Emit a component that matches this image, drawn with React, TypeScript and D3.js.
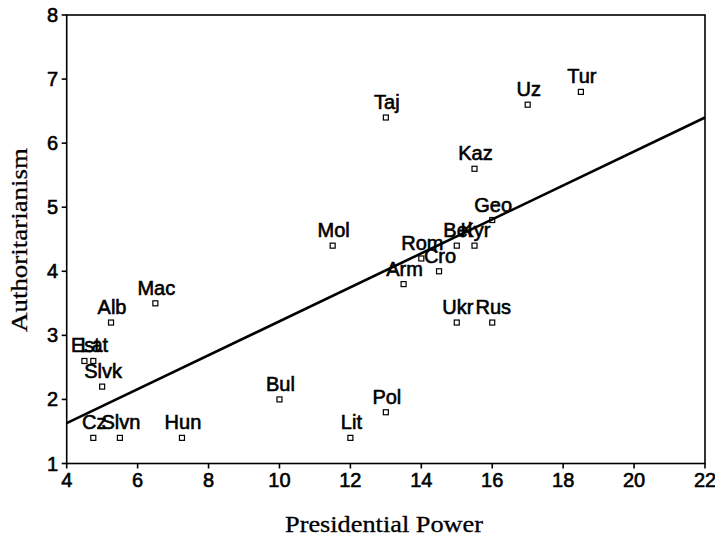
import React from "react";
import * as d3 from "d3";

const countries = ["Tur", "Uz", "Taj", "Kaz", "Geo", "Bel", "Kyr", "Mol", "Rom", "Cro", "Arm", "Mac", "Alb", "Ukr", "Rus", "Est", "Lat", "Slvk", "Bul", "Pol", "Cz", "Slvn", "Hun", "Lit"];
const presidentialPower = [18.5, 17, 13, 15.5, 16, 15, 15.5, 11.5, 14, 14.5, 13.5, 6.5, 5.25, 15, 16, 4.5, 4.75, 5, 10, 13, 4.75, 5.5, 7.25, 12];
const authoritarianism = [6.8, 6.6, 6.4, 5.6, 4.8, 4.4, 4.4, 4.4, 4.2, 4.0, 3.8, 3.5, 3.2, 3.2, 3.2, 2.6, 2.6, 2.2, 2.0, 1.8, 1.4, 1.4, 1.4, 1.4];
const fitLineX = [4, 22];
const fitLineY = [1.63, 6.4];
const xTicks = [4, 6, 8, 10, 12, 14, 16, 18, 20, 22];
const yTicks = [1, 2, 3, 4, 5, 6, 7, 8];
const xTitle = "Presidential Power";
const yTitle = "Authoritarianism";

export default function App() {
  const W = 715, H = 541;
  const x = d3.scaleLinear().domain([4, 22]).range([66.7, 705]);
  const y = d3.scaleLinear().domain([1, 8]).range([463.5, 15]);
  const line = d3.line<number>().x((d) => x(fitLineX[d])).y((d) => y(fitLineY[d]));
  const sans = "'Liberation Sans', Arial, sans-serif";
  const serif = "'Liberation Serif', 'Times New Roman', serif";
  const heavy = { stroke: "#000", strokeWidth: 0.6 };
  return (
    <svg width={W} height={H} style={{ position: "absolute", left: 0, top: 0, background: "#fff" }}>
      <rect x={0} y={0} width={W} height={H} fill="#fff" />
      {/* frame */}
      <rect x={x(4)} y={y(8)} width={x(22) - x(4)} height={y(1) - y(8)} fill="none" stroke="#000" strokeWidth={1.6} />
      {/* ticks */}
      {xTicks.map((t) => (
        <g key={"x" + t}>
          <line x1={x(t)} x2={x(t)} y1={y(1)} y2={y(1) + 5} stroke="#000" strokeWidth={1.6} />
          <text x={x(t)} y={487} textAnchor="middle" fontFamily={sans} fontSize={20} fill="#000" {...heavy}>{t}</text>
        </g>
      ))}
      {yTicks.map((t) => (
        <g key={"y" + t}>
          <line x1={x(4) - 5} x2={x(4)} y1={y(t)} y2={y(t)} stroke="#000" strokeWidth={1.6} />
          <text x={58} y={y(t) + 7} textAnchor="end" fontFamily={sans} fontSize={20} fill="#000" {...heavy}>{t}</text>
        </g>
      ))}
      {/* regression line */}
      <path d={line([0, 1]) || ""} fill="none" stroke="#000" strokeWidth={2.6} />
      {/* points */}
      {countries.map((c, i) => (
        <g key={c}>
          <rect x={x(presidentialPower[i]) - 2.5} y={y(authoritarianism[i]) - 2.5} width={5} height={5} fill="none" stroke="#000" strokeWidth={1.2} />
          <text x={x(presidentialPower[i]) + 1} y={y(authoritarianism[i]) - 8.5} textAnchor="middle" fontFamily={sans} fontSize={20} fill="#000" {...heavy}>{c}</text>
        </g>
      ))}
      {/* axis titles */}
      <text x={384} y={531.5} textAnchor="middle" fontFamily={serif} fontSize={24} fill="#000" stroke="#000" strokeWidth={0.3} textLength={198} lengthAdjust="spacingAndGlyphs">{xTitle}</text>
      <text transform={`translate(27,240) rotate(-90)`} textAnchor="middle" fontFamily={serif} fontSize={24} fill="#000" stroke="#000" strokeWidth={0.3} textLength={184} lengthAdjust="spacingAndGlyphs">{yTitle}</text>
    </svg>
  );
}
